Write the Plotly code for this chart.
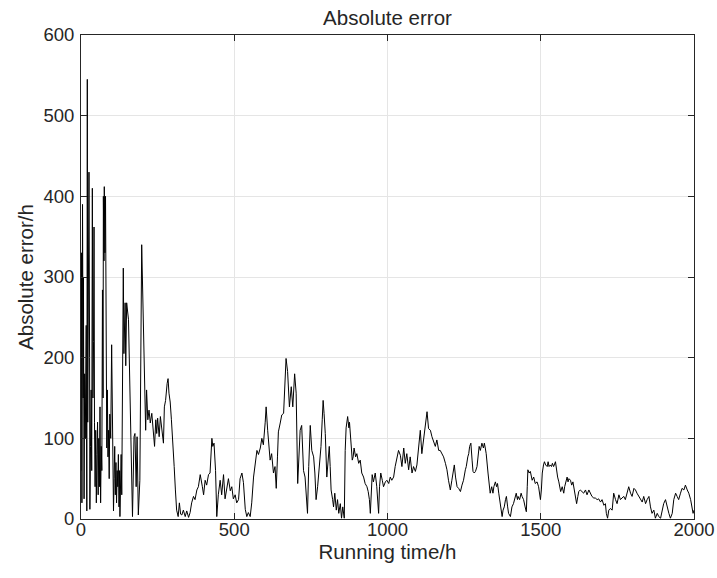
import plotly.graph_objects as go

# Running time (h) and absolute error (h) of the prediction
running_time = [
    0, 2, 3, 5, 7, 8, 10, 12, 14, 17, 19, 20.6, 22, 24, 26, 28, 29, 31, 33, 35,
    37, 39, 41, 42.5, 44, 46, 48, 50, 52, 54, 56, 58, 60, 62, 64, 66, 68, 70, 72, 73,
    75, 76, 78, 80, 81, 83, 84, 86, 88, 90, 92, 94, 97, 100, 102, 104, 106, 108, 110, 112,
    114, 116, 118, 120, 122, 124, 126, 127, 129, 131, 133, 135, 138, 140, 142, 144, 146, 149, 155, 160,
    163, 168, 173, 176, 180, 183, 187, 192, 198, 201, 205, 209, 211, 214, 218, 222, 226, 231, 235, 240,
    244, 247, 250, 255, 259, 263, 269, 272, 276, 281, 284, 287, 291, 295, 299, 304, 308, 312, 317, 321,
    325, 329, 334, 340, 345, 351, 356, 361, 367, 372, 378, 383, 389, 392, 396, 400, 405, 410, 416, 421,
    427, 430, 434, 439, 443, 448, 454, 459, 465, 470, 476, 481, 487, 492, 497, 503, 508, 514, 519, 525,
    530, 536, 541, 546, 552, 557, 563, 568, 574, 579, 585, 590, 595, 601, 604, 609, 613, 617, 622, 628,
    633, 637, 641, 644, 650, 655, 661, 666, 669, 674, 677, 680, 686, 691, 697, 702, 707, 712, 715, 720,
    726, 731, 739, 743, 748, 753, 759, 763, 767, 772, 776, 783, 787, 790, 793, 797, 802, 806, 810, 813,
    816, 821, 824, 828, 833, 837, 841, 846, 850, 854, 859, 862, 865, 870, 874, 876, 880, 885, 888, 891,
    896, 900, 906, 911, 916, 922, 927, 933, 937, 941, 944, 947, 950, 954, 960, 965, 971, 974, 978, 983,
    987, 993, 998, 1004, 1009, 1014, 1020, 1025, 1031, 1036, 1042, 1047, 1053, 1058, 1063, 1069, 1074, 1080, 1085, 1091,
    1096, 1102, 1107, 1112, 1118, 1123, 1129, 1134, 1140, 1145, 1151, 1156, 1161, 1167, 1172, 1178, 1183, 1189, 1194, 1199,
    1205, 1210, 1218, 1222, 1227, 1232, 1238, 1243, 1248, 1254, 1257, 1262, 1265, 1268, 1272, 1276, 1279, 1283, 1287, 1292,
    1295, 1299, 1303, 1308, 1313, 1316, 1319, 1322, 1328, 1332, 1335, 1340, 1344, 1347, 1352, 1356, 1359, 1363, 1366, 1370,
    1374, 1377, 1381, 1385, 1388, 1392, 1395, 1401, 1406, 1411, 1414, 1417, 1420, 1424, 1426, 1431, 1436, 1439, 1444, 1449,
    1453, 1456, 1458, 1462, 1466, 1472, 1477, 1482, 1488, 1493, 1499, 1502, 1505, 1509, 1512, 1516, 1521, 1524, 1527, 1531,
    1535, 1538, 1542, 1548, 1551, 1555, 1559, 1562, 1565, 1570, 1575, 1578, 1582, 1586, 1589, 1592, 1597, 1601, 1605, 1610,
    1613, 1617, 1621, 1624, 1629, 1635, 1640, 1646, 1651, 1657, 1662, 1667, 1673, 1678, 1684, 1689, 1695, 1700, 1706, 1711,
    1714, 1718, 1722, 1727, 1733, 1738, 1744, 1749, 1755, 1760, 1765, 1771, 1776, 1782, 1787, 1793, 1798, 1804, 1809, 1814,
    1820, 1825, 1831, 1836, 1842, 1847, 1853, 1858, 1863, 1869, 1874, 1880, 1885, 1891, 1896, 1901, 1907, 1912, 1918, 1923,
    1929, 1934, 1940, 1945, 1950, 1956, 1961, 1967, 1972, 1978, 1983, 1989, 1994, 1997, 2000,
]
absolute_error = [
    60, 330, 20, 390, 150, 300, 25, 180, 100, 240, 10, 545, 120, 250, 430, 200, 12, 90, 160, 60,
    410, 150, 220, 362, 120, 40, 110, 20, 80, 120, 30, 100, 40, 139, 20, 90, 60, 284, 150, 400,
    320, 412, 330, 400, 330, 250, 88, 160, 77, 110, 50, 130, 100, 216, 120, 60, 10, 50, 90, 30,
    70, 20, 60, 40, 80, 15, 60, 3, 40, 80, 30, 110, 311, 205, 240, 268, 190, 268, 247, 139,
    102, 3, 102, 106, 40, 102, 5, 48, 340, 288, 234, 156, 110, 160, 123, 135, 119, 131, 110, 90,
    123, 106, 125, 102, 127, 110, 94, 139, 147, 168, 174, 156, 145, 123, 90, 65, 36, 11, 3, 20,
    6, 5, 11, 3, 10, 2, 8, 20, 28, 24, 36, 40, 55, 50, 40, 30, 48, 42, 55, 57,
    100, 90, 94, 60, 3, 30, 48, 30, 55, 25, 40, 50, 35, 40, 25, 30, 20, 24, 50, 57,
    45, 12, 3, 8, 3, 20, 52, 65, 85, 80, 88, 100, 92, 120, 139, 110, 85, 73, 81, 57,
    65, 38, 77, 108, 119, 129, 131, 168, 199, 183, 156, 139, 164, 139, 180, 156, 44, 85, 110, 116,
    60, 52, 7, 65, 116, 85, 77, 57, 24, 40, 57, 90, 123, 147, 131, 106, 52, 73, 90, 65,
    36, 24, 15, 32, 11, 24, 7, 19, 1, 15, 1, 85, 113, 127, 113, 120, 98, 73, 77, 88,
    77, 81, 69, 73, 57, 52, 44, 40, 34, 24, 7, 40, 55, 46, 57, 40, 7, 40, 57, 48,
    40, 46, 48, 44, 52, 48, 52, 65, 77, 85, 79, 65, 88, 69, 81, 61, 77, 57, 65, 59,
    67, 90, 110, 81, 98, 114, 133, 112, 110, 102, 94, 90, 98, 85, 85, 81, 77, 69, 61, 48,
    36, 48, 67, 52, 40, 38, 34, 42, 48, 61, 65, 77, 81, 90, 94, 73, 59, 57, 59, 65,
    77, 90, 85, 94, 88, 94, 88, 81, 57, 40, 32, 40, 32, 40, 46, 40, 44, 32, 24, 11,
    3, 11, 15, 24, 28, 15, 7, 3, 15, 19, 24, 28, 32, 24, 28, 24, 32, 28, 24, 15,
    9, 40, 61, 57, 59, 48, 52, 44, 46, 40, 24, 36, 57, 67, 71, 67, 65, 71, 65, 67,
    65, 69, 65, 71, 61, 52, 46, 38, 34, 40, 32, 40, 46, 52, 46, 50, 48, 42, 46, 36,
    28, 19, 28, 34, 36, 34, 32, 36, 30, 36, 32, 28, 26, 26, 24, 25, 21, 24, 17, 19,
    7, 1, 11, 13, 11, 32, 24, 19, 30, 24, 26, 28, 24, 32, 40, 32, 28, 38, 36, 32,
    28, 24, 21, 28, 19, 24, 28, 15, 7, 11, 1, 7, 3, 1, 11, 19, 24, 15, 7, 1,
    7, 24, 32, 28, 24, 32, 38, 36, 42, 36, 32, 24, 15, 7, 11,
]

x_ticks = [0, 500, 1000, 1500, 2000]
y_ticks = [0, 100, 200, 300, 400, 500, 600]

axis_color = "#262626"
grid_color = "#e5e5e5"
font_family = "Liberation Sans, Arial, sans-serif"

fig = go.Figure(
    go.Scatter(
        x=running_time,
        y=absolute_error,
        mode="lines",
        line=dict(color="black", width=1),
        hoverinfo="x+y",
    )
)

common_axis = dict(
    showline=True,
    linecolor=axis_color,
    linewidth=1,
    mirror="ticks",
    ticks="inside",
    ticklen=6,
    tickcolor=axis_color,
    tickwidth=1,
    showgrid=True,
    gridcolor=grid_color,
    gridwidth=1,
    zeroline=False,
    automargin=False,
    tickfont=dict(family=font_family, size=18.5, color=axis_color),
)

fig.update_xaxes(
    range=[0, 2000],
    tickvals=x_ticks,
    ticklabelstandoff=-6,
    title=dict(text="Running time/h", font=dict(family=font_family, size=20.5, color=axis_color), standoff=2),
    **common_axis,
)
fig.update_yaxes(
    range=[0, 600],
    tickvals=y_ticks,
    ticklabelstandoff=2,
    title=dict(text="Absolute error/h", font=dict(family=font_family, size=20.5, color=axis_color), standoff=4),
    **common_axis,
)

fig.update_layout(
    width=717,
    height=578,
    margin=dict(l=81, r=23, t=35, b=59, autoexpand=False),
    paper_bgcolor="white",
    plot_bgcolor="white",
    showlegend=False,
    title=dict(
        text="Absolute error",
        x=0.5,
        xref="paper",
        xanchor="center",
        y=1 - 18 / 578,
        yref="container",
        yanchor="middle",
        font=dict(family=font_family, size=20.5, color=axis_color),
    ),
)

fig.write_html("out.html")
